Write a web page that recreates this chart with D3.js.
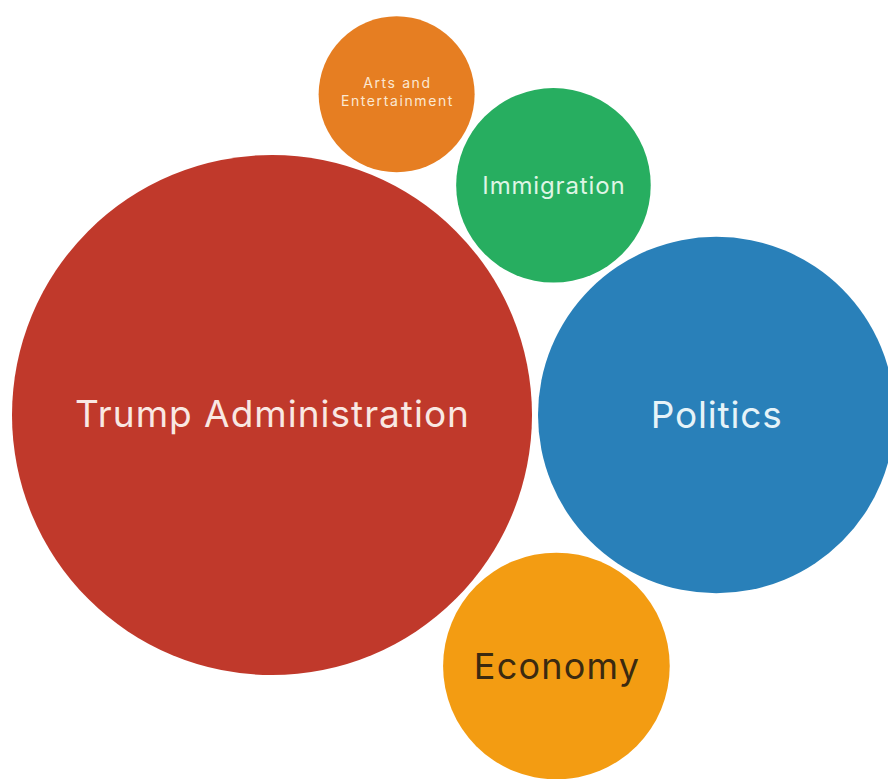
<!DOCTYPE html>
<html>
<head>
<meta charset="utf-8">
<script src="https://cdn.jsdelivr.net/npm/d3@7"></script>
<style>
  html, body { margin: 0; padding: 0; background: #ffffff; }
  svg { display: block; }
  text { font-variant-ligatures: none; font-feature-settings: "liga" 0, "calt" 0; }
</style>
</head>
<body>
<svg id="chart" width="888" height="779"></svg>
<script>
// ---- Data ----
const categories = ["Trump Administration", "Politics", "Economy", "Immigration", "Arts and Entertainment"];
const values = [100, 47, 19, 14, 9];
const colors = ["#C0392B", "#2980B9", "#F39C12", "#27AE60", "#E67E22"];
const textColors = ["#f9e8e3", "#e6f3f8", "#3b2a10", "#def5e4", "#fbe8d2"];
const labelLines = [["Trump Administration"], ["Politics"], ["Economy"], ["Immigration"], ["Arts and", "Entertainment"]];
const fontSizes = [37, 37, 36, 24, 14];
const letterSpacings = [1, 0.8, 1.2, 0.85, 1.6];
const lineHeights = [1.2, 1.2, 1.2, 1.2, 1.25];
const labelShift = [0.32, 0.35, 0.36, 0.36, 0.2];

// ---- Layout (tangency chain: each bubble touches two previous ones) ----
// [index, touchA, touchB, side] ; side +1 = clockwise from A->B
const layoutChain = [
  [2, 0, 1, 1],   // Economy below Trump & Politics
  [3, 0, 1, -1],  // Immigration above Trump & Politics
  [4, 0, 3, -1]   // Arts above Trump & Immigration
];
const pad = 6;

const svg = d3.select("#chart");
const r = d3.scaleSqrt().domain([0, d3.max(values)]).range([0, 260]);

const nodes = categories.map((c, i) => ({ name: c, value: values[i], r: r(values[i]), i }));
// anchor
nodes[0].x = 272; nodes[0].y = 415;
nodes[1].x = nodes[0].x + nodes[0].r + nodes[1].r + pad; nodes[1].y = nodes[0].y;

function placeTangent(c, a, b, side) {
  const dA = a.r + c.r + pad, dB = b.r + c.r + pad;
  const dx = b.x - a.x, dy = b.y - a.y;
  const d = Math.hypot(dx, dy);
  const along = (dA * dA - dB * dB + d * d) / (2 * d);
  const h = Math.sqrt(Math.max(0, dA * dA - along * along));
  const ux = dx / d, uy = dy / d;
  c.x = a.x + ux * along - side * uy * h;
  c.y = a.y + uy * along + side * ux * h;
}
layoutChain.forEach(([ci, ai, bi, s]) => placeTangent(nodes[ci], nodes[ai], nodes[bi], s));

const g = svg.selectAll("g.bubble").data(nodes).join("g")
  .attr("class", "bubble")
  .attr("transform", d => `translate(${d.x},${d.y})`);

g.append("circle")
  .attr("r", d => d.r)
  .attr("fill", d => colors[d.i]);

g.each(function(d) {
  const lines = labelLines[d.i];
  const fs = fontSizes[d.i];
  const lh = fs * lineHeights[d.i];
  const t = d3.select(this).append("text")
    .attr("text-anchor", "middle")
    .attr("font-family", "Inter, 'Open Sans', sans-serif")
    .attr("font-size", fs)
    .attr("letter-spacing", letterSpacings[d.i])
    .attr("fill", textColors[d.i]);
  lines.forEach((ln, k) => {
    t.append("tspan")
      .attr("x", letterSpacings[d.i] / 2)
      .attr("y", (k - (lines.length - 1) / 2) * lh)
      .attr("dy", labelShift[d.i] + "em")
      .text(ln);
  });
});
</script>
</body>
</html>
